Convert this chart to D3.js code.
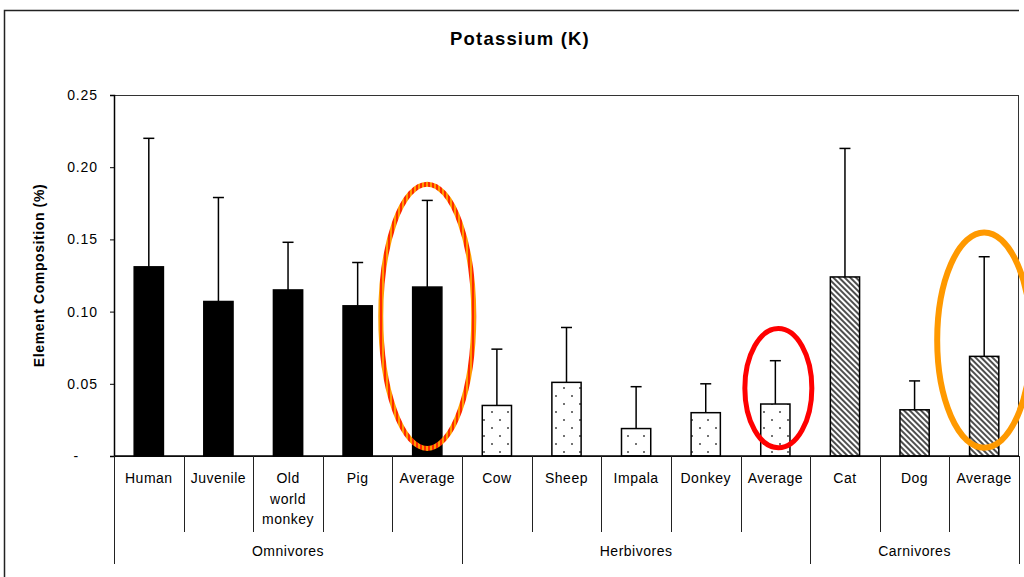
<!DOCTYPE html>
<html>
<head>
<meta charset="utf-8">
<script src="https://cdn.jsdelivr.net/npm/d3@7"></script>
<style>
  html, body { margin: 0; padding: 0; background: #fff; }
  svg { display: block; font-family: "Liberation Sans", Arial, sans-serif; }
</style>
</head>
<body>
<svg id="chart" width="1024" height="577"></svg>
<script>
(function () {
  // data
  const categories = ["Human", "Juvenile", "Old\nworld\nmonkey", "Pig", "Average",
    "Cow", "Sheep", "Impala", "Donkey", "Average",
    "Cat", "Dog", "Average"];
  const groups = ["Omnivores", "Herbivores", "Carnivores"];
  const groupOf = [0, 0, 0, 0, 0, 1, 1, 1, 1, 1, 2, 2, 2];
  const values = [0.131, 0.107, 0.115, 0.104, 0.117, 0.035, 0.051, 0.019, 0.030, 0.036, 0.124, 0.032, 0.069];
  const errors = [0.089, 0.072, 0.033, 0.030, 0.060, 0.039, 0.038, 0.029, 0.020, 0.030, 0.089, 0.020, 0.069];
  const yTicks = [0, 0.05, 0.10, 0.15, 0.20, 0.25];
  // highlight ellipses: category index, value span (low, high)
  const highlights = [
    { idx: 4, lo: 0.0035, hi: 0.190, kind: "striped" },
    { idx: 9, lo: 0.004, hi: 0.090, kind: "red" },
    { idx: 12, lo: 0.004, hi: 0.1565, kind: "orange" }
  ];

  const svg = d3.select("#chart");
  const width = 1024;
  const margin = { top: 95, right: 5, bottom: 121, left: 114 };
  const plotBottom = 456;

  const x = d3.scaleBand()
    .domain(d3.range(categories.length))
    .range([margin.left, width - margin.right])
    .paddingInner(0.58)
    .paddingOuter(0.29);

  const y = d3.scaleLinear()
    .domain([0, 0.25])
    .range([plotBottom, margin.top]);

  const step = x.step();
  const edge = i => x(i) + x.bandwidth() / 2 - step / 2;
  const boundary = i => i < categories.length ? edge(i) : edge(i - 1) + step;

  // patterns
  const defs = svg.append("defs");
  const dots = defs.append("pattern")
    .attr("id", "dots")
    .attr("patternUnits", "userSpaceOnUse")
    .attr("width", 16).attr("height", 16);
  dots.append("rect").attr("width", 16).attr("height", 16).attr("fill", "#fff");
  dots.append("circle").attr("cx", 4).attr("cy", 4).attr("r", 1).attr("fill", "#444");
  dots.append("circle").attr("cx", 12).attr("cy", 12).attr("r", 1).attr("fill", "#444");

  const hatch = defs.append("pattern")
    .attr("id", "hatch")
    .attr("patternUnits", "userSpaceOnUse")
    .attr("width", 4).attr("height", 4)
    .attr("patternTransform", "rotate(-45)");
  hatch.append("rect").attr("width", 4).attr("height", 4).attr("fill", "#fff");
  hatch.append("line").attr("x1", 1).attr("y1", 0).attr("x2", 1).attr("y2", 4)
    .attr("stroke", "#222").attr("stroke-width", 1.6);

  const stripes = defs.append("pattern")
    .attr("id", "stripes")
    .attr("patternUnits", "userSpaceOnUse")
    .attr("width", 4).attr("height", 4);
  stripes.append("rect").attr("width", 4).attr("height", 4).attr("fill", "#ff9a00");
  stripes.append("rect").attr("width", 2).attr("height", 4).attr("fill", "#ff2a00");

  const fills = ["#000", "url(#dots)", "url(#hatch)"];

  // outer chart frame
  svg.append("path")
    .attr("d", `M4.5,577 V10.5 H${width - 5}`)
    .attr("fill", "none")
    .attr("stroke", "#222")
    .attr("stroke-width", 1.5);

  // title
  svg.append("text")
    .attr("x", 520)
    .attr("y", 45)
    .attr("text-anchor", "middle")
    .attr("font-size", 18.5)
    .attr("font-weight", "bold")
    .attr("letter-spacing", 1.2)
    .text("Potassium (K)");

  // plot area border
  svg.append("rect")
    .attr("x", margin.left + 0.5)
    .attr("y", margin.top + 0.5)
    .attr("width", width - margin.right - margin.left - 1)
    .attr("height", plotBottom - margin.top)
    .attr("fill", "none")
    .attr("stroke", "#333")
    .attr("stroke-width", 1);

  // y axis
  const yAxis = svg.append("g")
    .attr("transform", `translate(${margin.left},0)`)
    .call(d3.axisLeft(y)
      .tickValues(yTicks)
      .tickSize(4)
      .tickPadding(12)
      .tickFormat(d => d === 0 ? "-" : d.toFixed(2)));
  yAxis.select(".domain").attr("stroke", "#000").attr("stroke-width", 1.5);
  yAxis.selectAll(".tick line").attr("stroke", "#000");
  yAxis.selectAll(".tick text")
    .attr("font-size", 14)
    .attr("letter-spacing", 0.9)
    .attr("fill", "#000")
    .attr("font-family", "Liberation Sans, Arial, sans-serif");
  yAxis.selectAll(".tick text").filter(d => d === 0).attr("x", -35);

  svg.append("text")
    .attr("transform", `translate(44,${(margin.top + plotBottom) / 2}) rotate(-90)`)
    .attr("text-anchor", "middle")
    .attr("font-size", 14)
    .attr("font-weight", "bold")
    .attr("letter-spacing", 0.6)
    .text("Element Composition (%)");

  // bars
  svg.append("g").selectAll("rect")
    .data(values)
    .join("rect")
    .attr("x", (d, i) => x(i))
    .attr("y", d => y(d))
    .attr("width", x.bandwidth())
    .attr("height", d => plotBottom - y(d))
    .attr("fill", (d, i) => fills[groupOf[i]])
    .attr("stroke", "#000")
    .attr("stroke-width", 1.5);

  // error bars (upper only)
  const eb = svg.append("g").attr("stroke", "#000").attr("stroke-width", 1.5);
  values.forEach((v, i) => {
    const cx = x(i) + x.bandwidth() / 2;
    eb.append("line")
      .attr("x1", cx).attr("x2", cx)
      .attr("y1", y(v)).attr("y2", y(v + errors[i]));
    eb.append("line")
      .attr("x1", cx - 5.5).attr("x2", cx + 5.5)
      .attr("y1", y(v + errors[i])).attr("y2", y(v + errors[i]));
  });

  // x axis baseline
  svg.append("line")
    .attr("x1", margin.left).attr("x2", width - margin.right)
    .attr("y1", plotBottom).attr("y2", plotBottom)
    .attr("stroke", "#000").attr("stroke-width", 1.5);

  // category separators
  const groupStarts = [0];
  groupOf.forEach((g, i) => { if (i > 0 && g !== groupOf[i - 1]) groupStarts.push(i); });
  groupStarts.push(categories.length);
  const sep = svg.append("g").attr("stroke", "#222").attr("stroke-width", 1);
  d3.range(categories.length + 1).forEach(i => {
    const bx = Math.round(boundary(i)) + 0.5;
    sep.append("line")
      .attr("x1", bx).attr("x2", bx)
      .attr("y1", plotBottom)
      .attr("y2", groupStarts.includes(i) ? 564 : 532);
  });

  // category labels
  const catLabels = svg.append("g")
    .attr("font-size", 14)
    .attr("letter-spacing", 0.5)
    .attr("text-anchor", "middle");
  categories.forEach((c, i) => {
    const t = catLabels.append("text")
      .attr("x", x(i) + x.bandwidth() / 2)
      .attr("y", 483);
    c.split("\n").forEach((line, k) => {
      t.append("tspan")
        .attr("x", x(i) + x.bandwidth() / 2)
        .attr("dy", k === 0 ? 0 : 20.5)
        .text(line);
    });
  });

  // group labels
  groups.forEach((g, k) => {
    const a = boundary(groupStarts[k]);
    const b = boundary(groupStarts[k + 1]);
    svg.append("text")
      .attr("x", (a + b) / 2)
      .attr("y", 556)
      .attr("text-anchor", "middle")
      .attr("font-size", 14)
      .attr("letter-spacing", 0.5)
      .text(g);
  });

  // highlight ellipses
  const strokes = { striped: "url(#stripes)", red: "#ff0000", orange: "#ff9900" };
  svg.append("g").selectAll("ellipse")
    .data(highlights)
    .join("ellipse")
    .attr("cx", d => x(d.idx) + x.bandwidth() / 2 + (d.kind === "red" ? 3 : 0))
    .attr("cy", d => (y(d.lo) + y(d.hi)) / 2)
    .attr("rx", d => d.kind === "red" ? 33.5 : d.kind === "orange" ? 47 : 46.5)
    .attr("ry", d => (y(d.lo) - y(d.hi)) / 2 - 2.5)
    .attr("fill", "none")
    .attr("stroke", d => strokes[d.kind])
    .attr("stroke-width", d => d.kind === "orange" ? 6 : 5);
})();
</script>
</body>
</html>
